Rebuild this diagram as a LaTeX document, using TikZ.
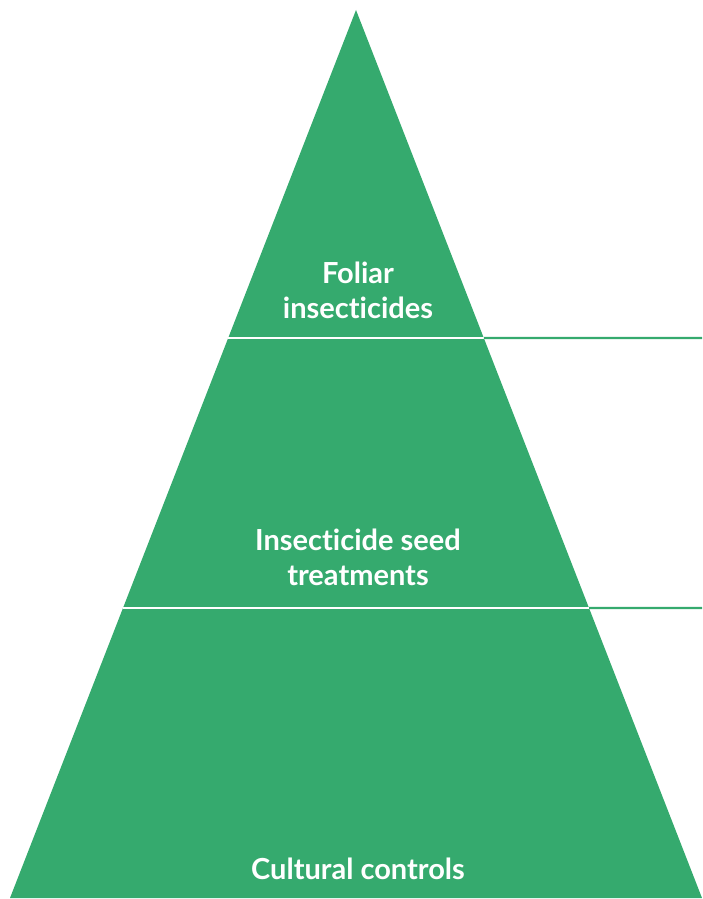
\documentclass[tikz,border=0pt]{standalone}
\usepackage{fontspec}
\setmainfont{Lato}[Ligatures={NoCommon}]
\usetikzlibrary{calc}
\definecolor{pgreen}{RGB}{53,170,110}
\begin{document}
\begin{tikzpicture}[x=1pt,y=-1pt,
  label/.style={text=white,font=\bfseries\fontsize{29}{35}\selectfont,align=center,inner sep=0pt,anchor=base},
  divider/.style={draw=white,line width=2.5pt},
  leader/.style={draw=pgreen,line width=2.4pt}]
\useasboundingbox (0,0) rectangle (702,899);
\coordinate (apex) at (356,10);
\coordinate (bl) at (10,898);
\coordinate (br) at (702,898);
\fill[pgreen] (apex) -- (br) -- (bl) -- cycle;
% dividers
\coordinate (d1l) at ($(apex)!328/888!(bl)$);
\coordinate (d1r) at ($(apex)!328/888!(br)$);
\coordinate (d2l) at ($(apex)!598/888!(bl)$);
\coordinate (d2r) at ($(apex)!598/888!(br)$);
\coordinate (e1) at (702,338);
\coordinate (e2) at (702,608);
\draw[divider] (d1l) -- (d1r);
\draw[divider] (d2l) -- (d2r);
\draw[leader] (d1r) -- (e1);
\draw[leader] (d2r) -- (e2);
\node[label] (t1) at (358,318) {Foliar\\insecticides};
\node[label] (t2) at (358,585) {Insecticide seed\\treatments};
\node[label] (t3) at (358,879) {Cultural controls};
\end{tikzpicture}
\end{document}
